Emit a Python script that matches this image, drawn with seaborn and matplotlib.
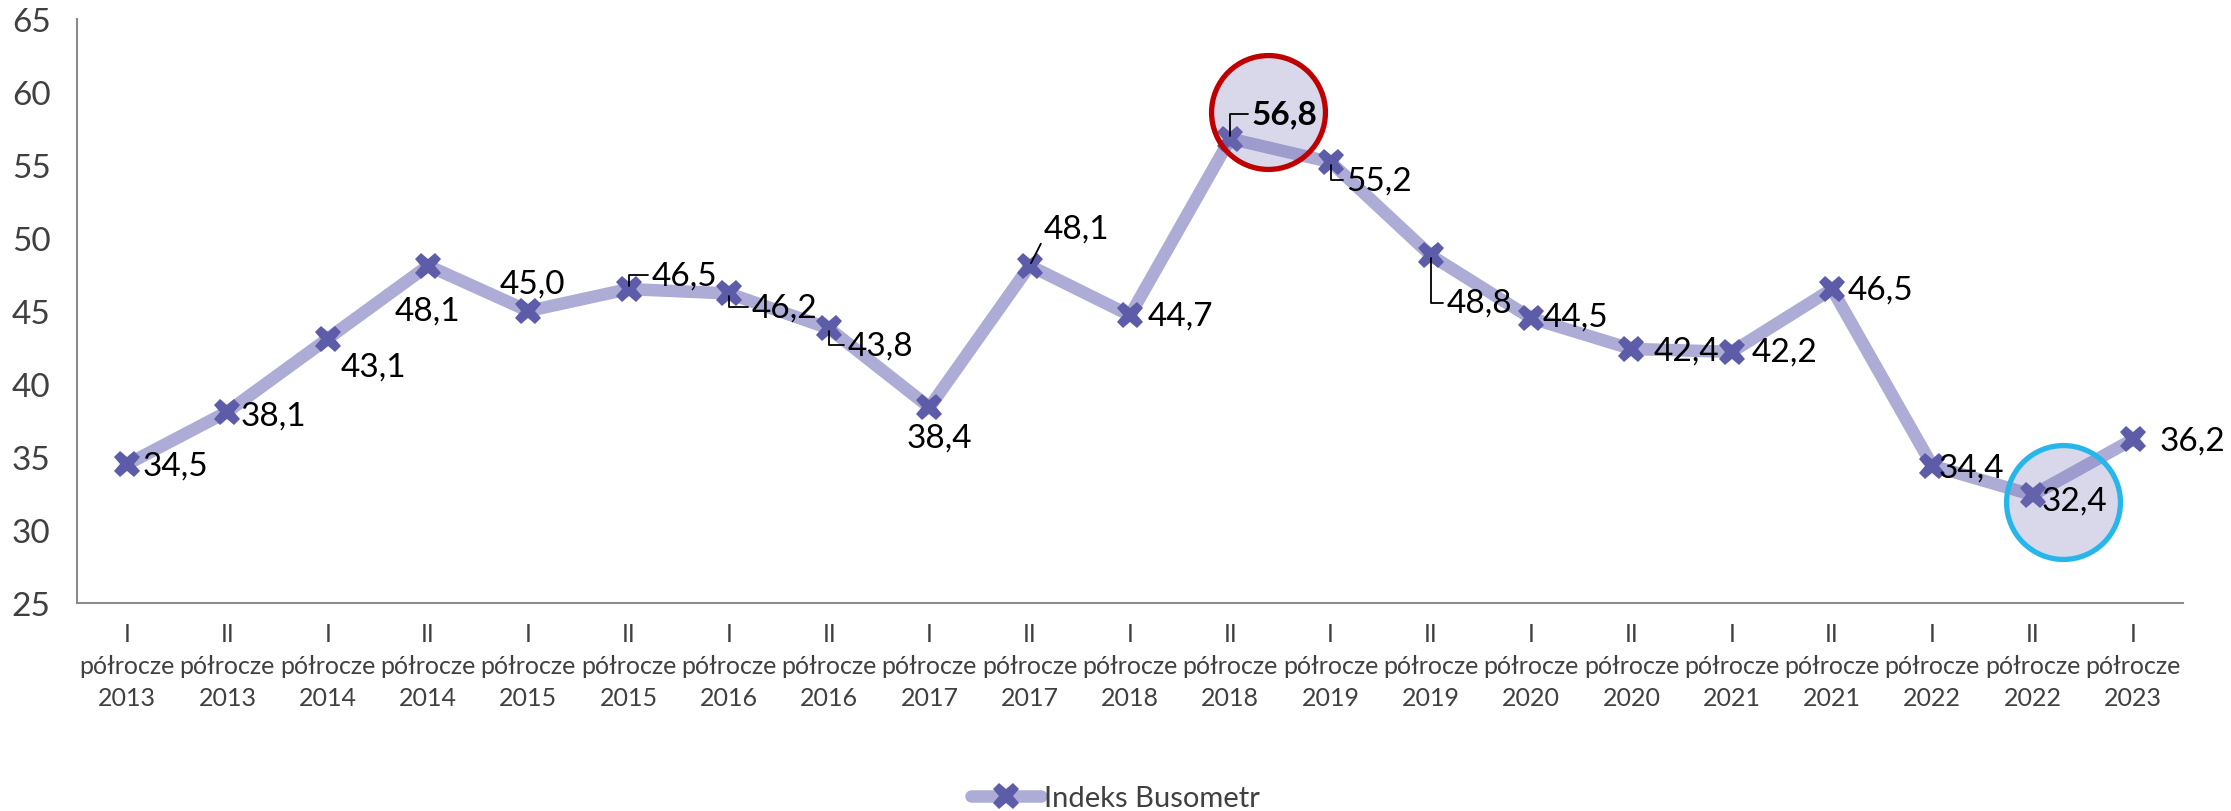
import matplotlib
matplotlib.use("Agg")
import matplotlib.pyplot as plt
import matplotlib.transforms as mtransforms
from matplotlib.lines import Line2D
import pandas as pd
import seaborn as sns

halves = ["I", "II", "I", "II", "I", "II", "I", "II", "I", "II", "I",
          "II", "I", "II", "I", "II", "I", "II", "I", "II", "I"]
years = [2013, 2013, 2014, 2014, 2015, 2015, 2016, 2016, 2017, 2017, 2018,
         2018, 2019, 2019, 2020, 2020, 2021, 2021, 2022, 2022, 2023]
index_values = [34.5, 38.1, 43.1, 48.1, 45.0, 46.5, 46.2, 43.8, 38.4, 48.1, 44.7,
                56.8, 55.2, 48.8, 44.5, 42.4, 42.2, 46.5, 34.4, 32.4, 36.2]

# label offsets (points) and leader line style for some labels
label_offsets = [(35, -1), (33, -3), (33, -20), (0, -32), (3, 20), (40, 10),
                 (40, -10), (37, -12), (7, -22), (34, 27), (36, 0), (39, 18),
                 (35, -13), (35, -34), (32, 1), (40, -1), (38, 0), (35, 0),
                 (28, -1), (30, -4), (43, -1)]
leaders = {5: "angle", 6: "angle", 7: "angle", 9: "straight", 11: "angle",
           12: "angle", 13: "angle"}
highlight_max = 11
highlight_min = 19

LINE_COLOR = "#ACACD6"
MARKER_COLOR = "#5C5CA8"
TEXT_GRAY = "#404040"
SPINE_GRAY = "#8C8C8C"

sns.set_style("white")
plt.rcParams["font.family"] = ["Lato", "DejaVu Sans"]

labels = [f"{h}\npółrocze\n{y}" for h, y in zip(halves, years)]
df = pd.DataFrame({"okres": labels, "wartosc": index_values})

fig = plt.figure(figsize=(22.31, 8.12), dpi=100)
ax = fig.add_axes([0.0345, 0.2562, 0.944, 0.7192])

sns.lineplot(data=df, x="okres", y="wartosc", ax=ax, color=LINE_COLOR,
             linewidth=9, sort=False, solid_capstyle="round", zorder=2)
ax.plot(range(len(index_values)), index_values, linestyle="none", marker="X",
        markersize=19, color=MARKER_COLOR, markeredgewidth=0, zorder=3)

# highlight circles
for idx, off, edge in [(highlight_max, (27, 19.5), "#C00000"),
                       (highlight_min, (22, -5), "#27B6EA")]:
    tr = mtransforms.offset_copy(ax.transData, fig=fig, x=off[0], y=off[1], units="points")
    ax.plot([idx], [index_values[idx]], marker="o", markersize=82, linestyle="none",
            markerfacecolor=(120 / 255, 115 / 255, 180 / 255, 0.28),
            markeredgecolor=edge, markeredgewidth=3.8, transform=tr, zorder=4)

for i, (v, off) in enumerate(zip(index_values, label_offsets)):
    txt = f"{v:.1f}".replace(".", ",")
    kw = dict(textcoords="offset points", ha="center", va="center",
              fontsize=24, color="black", zorder=5)
    if i == highlight_max:
        kw["fontweight"] = "bold"
    if i in leaders:
        if leaders[i] == "angle":
            kw["arrowprops"] = dict(arrowstyle="-", color="black", lw=1.3,
                                    shrinkA=0, shrinkB=2, relpos=(0.0, 0.5),
                                    connectionstyle="angle,angleA=0,angleB=90,rad=0")
        else:
            kw["arrowprops"] = dict(arrowstyle="-", color="black", lw=1.3,
                                    shrinkA=0, shrinkB=2, relpos=(0.0, 0.2),
                                    connectionstyle="arc3")
    ax.annotate(txt, xy=(i, v), xytext=off, **kw)

ax.set_xlim(-0.5, len(index_values) - 0.5)
ax.set_ylim(25, 65)
ax.set_yticks(range(25, 66, 5))
ax.set_xlabel("")
ax.set_ylabel("")

ax.set_xticks(range(len(labels)))
ax.set_xticklabels(labels, linespacing=1.45)
ax.set_xticks([i - 0.5 for i in range(len(labels) + 1)], minor=True)
ax.tick_params(axis="x", which="major", length=0, pad=14, labelsize=18, labelcolor=TEXT_GRAY)
ax.tick_params(axis="x", which="minor", length=9, width=1.5, color=SPINE_GRAY, direction="out")
ax.tick_params(axis="y", length=9, width=1.5, color=SPINE_GRAY, direction="out",
               labelsize=24, labelcolor=TEXT_GRAY, pad=10)

for side in ["top", "right"]:
    ax.spines[side].set_visible(False)
for side in ["left", "bottom"]:
    ax.spines[side].set_color(SPINE_GRAY)
    ax.spines[side].set_linewidth(1.5)

handle = Line2D([0], [0], color=LINE_COLOR, linewidth=9, marker="X", markersize=19,
                markerfacecolor=MARKER_COLOR, markeredgewidth=0, solid_capstyle="round")
leg = fig.legend([handle], ["Indeks Busometr"], loc="center", bbox_to_anchor=(0.5, 0.016),
                 frameon=False, fontsize=21, handlelength=2.4, handletextpad=0.1)
for t in leg.get_texts():
    t.set_color(TEXT_GRAY)

fig.savefig("out.png", dpi=100)
